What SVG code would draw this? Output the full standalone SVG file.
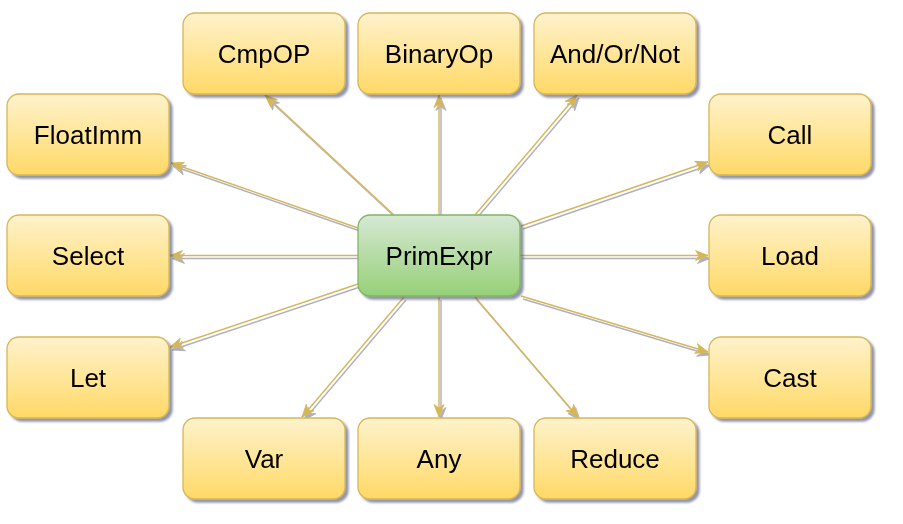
<svg xmlns="http://www.w3.org/2000/svg" width="903" height="524" viewBox="0 0 903 524">
<defs>
<linearGradient id="gy" x1="0" y1="0" x2="0" y2="1"><stop offset="0" stop-color="#fff2cc"/><stop offset="1" stop-color="#ffd966"/></linearGradient>
<linearGradient id="gg" x1="0" y1="0" x2="0" y2="1"><stop offset="0" stop-color="#d5e8d4"/><stop offset="1" stop-color="#97d077"/></linearGradient>
<filter id="sh" x="-10%" y="-10%" width="130%" height="140%">
<feGaussianBlur in="SourceAlpha" stdDeviation="0.9" result="b"/>
<feOffset in="b" dx="3" dy="3" result="o"/>
<feFlood flood-color="#4a4f72" flood-opacity="0.6"/>
<feComposite in2="o" operator="in" result="s"/>
<feMerge><feMergeNode in="s"/><feMergeNode in="SourceGraphic"/></feMerge>
</filter>
<filter id="shl" x="0" y="0" width="903" height="524" filterUnits="userSpaceOnUse">
<feGaussianBlur in="SourceAlpha" stdDeviation="0.6" result="b"/>
<feOffset in="b" dx="2" dy="3" result="o"/>
<feFlood flood-color="#4a4f72" flood-opacity="0.45"/>
<feComposite in2="o" operator="in" result="s"/>
<feMerge><feMergeNode in="s"/><feMergeNode in="SourceGraphic"/></feMerge>
</filter>
<marker id="arr" markerUnits="userSpaceOnUse" markerWidth="14" markerHeight="12" refX="13" refY="5.5" orient="auto" viewBox="0 0 14 11">
<path d="M0.5,0.5 L13,5.5 L0.5,10.5 L4,5.5 Z" fill="#d6b656" stroke="#d6b656" stroke-width="0.8"/>
</marker>
</defs>
<style>
.n rect{fill:url(#gy);stroke:#d6b656;stroke-width:1.3}
.g rect{fill:url(#gg);stroke:#82b366;stroke-width:1.3}
.n, .g{filter:url(#sh)}
text{font-family:"Liberation Sans",Arial,sans-serif;font-size:26px;fill:#000;text-anchor:middle}
.e line{stroke:#d6b656;stroke-width:1.4;fill:none;marker-end:url(#arr)}
</style>
<rect width="903" height="524" fill="#ffffff"/>
<g id="connectors" class="e" filter="url(#shl)">
<line x1="394" y1="215" x2="265" y2="95"/>
<line x1="439" y1="215" x2="439" y2="95"/>
<line x1="475" y1="215" x2="577" y2="95"/>
<line x1="358" y1="228" x2="171" y2="163"/>
<line x1="521" y1="226" x2="708" y2="162"/>
<line x1="358" y1="255.5" x2="170" y2="255.5"/>
<line x1="520" y1="255.5" x2="708" y2="255.5"/>
<line x1="358" y1="284" x2="170" y2="347"/>
<line x1="521" y1="296" x2="708" y2="352"/>
<line x1="404" y1="297" x2="302" y2="417"/>
<line x1="439" y1="297" x2="439" y2="417"/>
<line x1="475" y1="297" x2="578" y2="417"/>
</g>
<g id="node-cmpop" class="n"><rect x="183" y="13" width="162" height="81" rx="12"/><text x="264" y="62.5">CmpOP</text></g>
<g id="node-binaryop" class="n"><rect x="358" y="13" width="162" height="81" rx="12"/><text x="439" y="62.5">BinaryOp</text></g>
<g id="node-andornot" class="n"><rect x="534" y="13" width="162" height="81" rx="12"/><text x="615" y="62.5">And/Or/Not</text></g>
<g id="node-floatimm" class="n"><rect x="7" y="94" width="162" height="81" rx="12"/><text x="88" y="143.5">FloatImm</text></g>
<g id="node-call" class="n"><rect x="709" y="94" width="162" height="81" rx="12"/><text x="790" y="143.5">Call</text></g>
<g id="node-select" class="n"><rect x="7" y="215" width="162" height="81" rx="12"/><text x="88" y="264.5">Select</text></g>
<g id="node-primexpr" class="g"><rect x="358" y="215" width="162" height="81" rx="12"/><text x="439" y="264.5">PrimExpr</text></g>
<g id="node-load" class="n"><rect x="709" y="215" width="162" height="81" rx="12"/><text x="790" y="264.5">Load</text></g>
<g id="node-let" class="n"><rect x="7" y="337" width="162" height="81" rx="12"/><text x="88" y="386.5">Let</text></g>
<g id="node-cast" class="n"><rect x="709" y="337" width="162" height="81" rx="12"/><text x="790" y="386.5">Cast</text></g>
<g id="node-var" class="n"><rect x="183" y="418" width="162" height="81" rx="12"/><text x="264" y="467.5">Var</text></g>
<g id="node-any" class="n"><rect x="358" y="418" width="162" height="81" rx="12"/><text x="439" y="467.5">Any</text></g>
<g id="node-reduce" class="n"><rect x="534" y="418" width="162" height="81" rx="12"/><text x="615" y="467.5">Reduce</text></g>
</svg>
